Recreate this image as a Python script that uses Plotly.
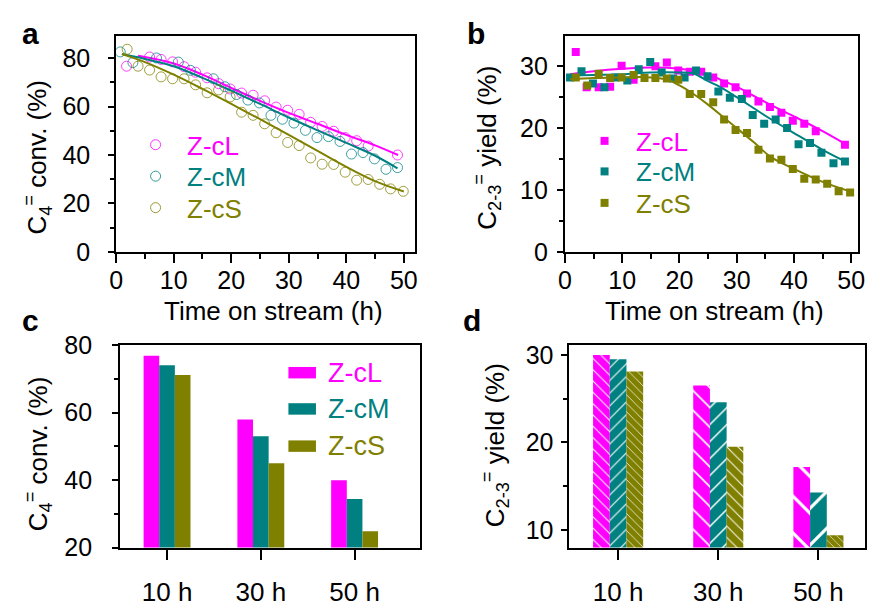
import plotly.graph_objects as go

W, H = 872, 608
FONT = "Liberation Sans, Arial, sans-serif"

names = ["Z-cL", "Z-cM", "Z-cS"]
colors = ["#FF00FF", "#008080", "#808000"]

# ---------- panel a : C4= conversion vs time ----------
a_cL_t = [1.8, 5.8, 7.8, 9.8, 11.8, 13.8, 15.8, 17.8, 19.8, 21.8, 23.8, 25.8, 27.8, 29.8,
          31.8, 33.8, 35.8, 37.8, 39.8, 41.8, 43.8, 48.9]
a_cL_y = [76.7, 80.5, 79.5, 78.5, 76.5, 74.2, 71.9, 69.5, 67.3, 65.6, 64.7, 62.4, 59.8, 58.5,
          56.8, 53.5, 51.8, 49.8, 47.2, 45.9, 43.7, 40.0]
a_cM_t = [0.7, 2.9, 7.0, 10.8, 12.9, 16.9, 18.9, 20.9, 22.9, 24.9, 26.9, 28.9, 30.9, 32.9,
          34.9, 36.9, 38.9, 40.9, 42.9, 44.9, 46.9, 48.9]
a_cM_y = [82.6, 78.2, 80.1, 78.4, 75.0, 71.5, 68.2, 65.0, 62.7, 61.5, 56.4, 54.8, 53.2, 50.2,
          47.2, 47.6, 45.6, 40.4, 41.0, 38.4, 34.1, 34.8]
a_cS_t = [1.9, 3.8, 5.8, 7.8, 9.8, 11.8, 13.8, 15.8, 17.8, 19.8, 21.8, 23.8, 25.8, 27.8,
          29.8, 31.8, 33.8, 35.8, 37.8, 39.8, 41.8, 43.8, 45.8, 47.7, 49.9]
a_cS_y = [83.7, 76.7, 75.1, 72.3, 71.5, 71.5, 69.0, 65.7, 66.9, 64.0, 57.7, 56.4, 52.9, 49.2,
          45.2, 43.9, 38.8, 36.2, 36.1, 32.9, 29.6, 29.9, 27.9, 26.0, 25.0]
# fitted curves (panel a)
a_fit_cL_t = [3.8, 10, 15, 20, 25, 30, 35, 40, 45, 49]
a_fit_cL_y = [81.0, 77.8, 73.2, 67.7, 62.4, 57.4, 52.9, 48.3, 44.0, 40.0]
a_fit_cM_t = [1, 5, 10, 15, 20, 25, 30, 35, 40, 45, 48.9]
a_fit_cM_y = [81.7, 79.7, 76.7, 71.9, 66.6, 61.1, 55.5, 50.2, 45.0, 39.7, 34.5]
a_fit_cS_t = [1, 5, 10, 15, 20, 25, 30, 35, 40, 45, 50]
a_fit_cS_y = [81.7, 78.4, 73.2, 67.3, 61.1, 54.8, 48.3, 41.7, 35.1, 29.2, 24.9]

# ---------- panel b : C2-3= yield vs time ----------
b_cL_t = [1.9, 3.8, 5.9, 7.9, 9.9, 12.0, 15.8, 17.8, 19.8, 21.8, 23.8, 25.9, 27.8, 29.8,
          31.8, 33.8, 35.8, 37.8, 39.8, 41.8, 43.8, 48.9]
b_cL_y = [32.3, 26.6, 26.6, 26.7, 30.1, 27.8, 30.0, 30.6, 29.3, 29.1, 29.1, 28.2, 27.2, 26.6,
          25.6, 24.3, 23.4, 22.5, 21.2, 20.7, 19.5, 17.3]
b_cM_t = [0.9, 2.9, 4.9, 6.9, 8.8, 10.9, 12.9, 14.9, 16.9, 18.9, 20.9, 22.9, 24.9, 26.8,
          28.8, 30.9, 32.8, 34.8, 36.8, 38.8, 40.8, 42.8, 44.8, 46.9, 48.9]
b_cM_y = [28.2, 29.2, 27.2, 26.6, 28.2, 27.7, 29.5, 30.7, 29.0, 28.0, 28.2, 29.3, 28.4, 25.9,
          24.9, 24.7, 22.1, 20.7, 21.4, 20.0, 17.4, 17.6, 16.0, 14.3, 14.6]
b_cS_t = [1.9, 3.9, 5.9, 7.9, 9.9, 12.0, 13.9, 15.8, 17.8, 19.8, 21.8, 23.8, 25.9, 27.8,
          29.8, 31.8, 33.8, 35.8, 37.8, 39.8, 41.8, 43.8, 45.8, 47.8, 49.8]
b_cS_y = [28.2, 26.9, 28.8, 28.1, 28.2, 28.6, 28.1, 28.1, 28.0, 27.8, 25.5, 25.5, 24.2, 21.4,
          19.7, 19.2, 16.5, 15.1, 14.9, 13.4, 11.8, 11.7, 11.0, 9.8, 9.6]
b_fit_cL_t = [0.9, 5, 10, 15, 20, 25, 27, 30, 35, 40, 45, 49]
b_fit_cL_y = [28.7, 29.2, 29.6, 29.8, 29.6, 28.7, 27.9, 26.7, 24.2, 21.9, 19.5, 17.4]
b_fit_cM_t = [0.9, 5, 10, 15, 20, 22.5, 25, 27, 30, 35, 40, 45, 49]
b_fit_cM_y = [28.5, 28.6, 28.7, 29.0, 29.0, 28.8, 27.6, 26.7, 25.0, 22.0, 19.2, 16.5, 14.6]
b_fit_cS_t = [0.9, 5, 10, 15, 18, 20, 22, 25, 28, 30, 33, 36, 40, 45, 50]
b_fit_cS_y = [27.9, 28.1, 28.2, 28.2, 27.8, 26.9, 25.8, 23.8, 21.5, 20.0, 17.7, 15.3, 13.4, 11.3, 9.7]

# ---------- panels c, d : bars ----------
bar_cats = ["10 h", "30 h", "50 h"]
c_conv = {"Z-cL": [76.9, 58.0, 40.0], "Z-cM": [74.1, 53.0, 34.4], "Z-cS": [71.2, 45.0, 24.8]}
d_yield = {"Z-cL": [30.0, 26.5, 17.2], "Z-cM": [29.5, 24.6, 14.3], "Z-cS": [28.1, 19.5, 9.4]}

fig = go.Figure()

a_pts = [(a_cL_t, a_cL_y), (a_cM_t, a_cM_y), (a_cS_t, a_cS_y)]
a_fit = [(a_fit_cL_t, a_fit_cL_y), (a_fit_cM_t, a_fit_cM_y), (a_fit_cS_t, a_fit_cS_y)]
b_pts = [(b_cL_t, b_cL_y), (b_cM_t, b_cM_y), (b_cS_t, b_cS_y)]
b_fit = [(b_fit_cL_t, b_fit_cL_y), (b_fit_cM_t, b_fit_cM_y), (b_fit_cS_t, b_fit_cS_y)]

for i, n in enumerate(names):
    fig.add_trace(go.Scatter(x=a_fit[i][0], y=a_fit[i][1], mode="lines",
                             line=dict(color=colors[i], width=2, shape="spline", smoothing=1.0),
                             showlegend=False, xaxis="x", yaxis="y"))
    fig.add_trace(go.Scatter(x=a_pts[i][0], y=a_pts[i][1], mode="markers", name=n,
                             marker=dict(symbol="circle-open", size=10, color=colors[i],
                                         line=dict(width=1, color=colors[i]), opacity=0.75),
                             showlegend=False, xaxis="x", yaxis="y"))
    fig.add_trace(go.Scatter(x=b_fit[i][0], y=b_fit[i][1], mode="lines",
                             line=dict(color=colors[i], width=2, shape="spline", smoothing=1.0),
                             showlegend=False, xaxis="x2", yaxis="y2"))
    fig.add_trace(go.Scatter(x=b_pts[i][0], y=b_pts[i][1], mode="markers", name=n,
                             marker=dict(symbol="square", size=8, color=colors[i]),
                             showlegend=False, xaxis="x2", yaxis="y2"))

pat_shape = ["\\", "/", "\\"]
pat_size = [[8, 14, 26], [9, 12, 26], [6, 8, 5]]
for i, n in enumerate(names):
    fig.add_trace(go.Bar(x=bar_cats, y=c_conv[n], name=n, marker=dict(color=colors[i], line_width=0),
                         showlegend=False, xaxis="x3", yaxis="y3", offsetgroup=str(i)))
    fig.add_trace(go.Bar(x=bar_cats, y=d_yield[n], name=n,
                         marker=dict(color=colors[i], line_width=0,
                                     pattern=dict(shape=pat_shape[i], size=pat_size[i], solidity=0.12,
                                                  fgcolor="white", bgcolor=colors[i], fillmode="replace")),
                         showlegend=False, xaxis="x4", yaxis="y4", offsetgroup=str(i)))

def px_x(p):
    return p / W

def px_y(p):
    return 1 - p / H

axis_common = dict(showline=True, linecolor="black", linewidth=2, mirror=True, ticks="outside",
                   tickwidth=2, tickcolor="black", showgrid=False, zeroline=False,
                   tickfont=dict(family=FONT, size=25, color="black"))
cat_font = dict(family=FONT, size=26, color="black")

fig.update_layout(
    width=W, height=H, margin=dict(l=0, r=0, t=0, b=0),
    paper_bgcolor="white", plot_bgcolor="white",
    barmode="group", bargap=0.5, bargroupgap=0,
    font=dict(family=FONT, color="black"),
    xaxis=dict(axis_common, domain=[px_x(111), px_x(415)], range=[0, 52], dtick=10, ticklen=9,
               ticklabelstandoff=-4, anchor="y",
               minor=dict(dtick=5, ticklen=5, tickwidth=2, ticks="outside", tickcolor="black")),
    yaxis=dict(axis_common, domain=[px_y(249.3), px_y(23)], range=[0, 89.2], dtick=20, ticklen=6,
               ticklabelstandoff=13, anchor="x",
               minor=dict(dtick=10, ticklen=4, tickwidth=2, ticks="outside", tickcolor="black")),
    xaxis2=dict(axis_common, domain=[px_x(567), px_x(865)], range=[0, 51.2], dtick=10, ticklen=9,
                ticklabelstandoff=-4, anchor="y2",
                minor=dict(dtick=5, ticklen=5, tickwidth=2, ticks="outside", tickcolor="black")),
    yaxis2=dict(axis_common, domain=[px_y(249.3), px_y(23)], range=[0, 34.9], dtick=10, ticklen=6,
                ticklabelstandoff=4, anchor="x2",
                minor=dict(dtick=5, ticklen=4, tickwidth=2, ticks="outside", tickcolor="black")),
    xaxis3=dict(axis_common, domain=[px_x(115), px_x(420)], range=[-0.5, 2.7], ticklen=10,
                ticklabelstandoff=10, anchor="y3", type="category", tickfont=cat_font),
    yaxis3=dict(axis_common, domain=[px_y(559.3), px_y(347.3)], range=[20, 80], dtick=20, ticklen=6,
                ticklabelstandoff=15, anchor="x3",
                minor=dict(dtick=10, ticklen=4, tickwidth=2, ticks="outside", tickcolor="black")),
    xaxis4=dict(axis_common, domain=[px_x(570.7), 1.0], range=[-0.495, 2.465], ticklen=10,
                ticklabelstandoff=10, anchor="y4", type="category", tickfont=cat_font),
    yaxis4=dict(axis_common, domain=[px_y(559.3), px_y(347.3)], range=[8, 31.1], dtick=10, ticklen=6,
                ticklabelstandoff=2, anchor="x4",
                minor=dict(dtick=5, ticklen=4, tickwidth=2, ticks="outside", tickcolor="black")),
)

ann = []
shapes = []

def text(x, y, s, size=26, anchor="center", bold=False, angle=0, color="black"):
    ann.append(dict(x=px_x(x), y=px_y(y), xref="paper", yref="paper", text=s, showarrow=False,
                    xanchor=anchor, yanchor="middle", textangle=angle,
                    font=dict(family=FONT, size=size, color=color,
                              weight="bold" if bold else "normal")))

# panel labels
text(24, 20, "a", size=30, bold=True)
text(477, 20, "b", size=30, bold=True)
text(24, 321, "c", size=30, bold=True)
text(473, 321, "d", size=30, bold=True)

# axis titles
text(271, 311, "Time on stream (h)")
text(719, 311, "Time on stream (h)")
text(31, 150, "C<sub>4</sub><sup>=</sup> conv. (%)", angle=-90)
text(487, 140, "C<sub>2-3</sub><sup>=</sup> yield (%)", angle=-90)
text(31, 461, "C<sub>4</sub><sup>=</sup> conv. (%)", angle=-90)
text(496, 452, "C<sub>2-3</sub><sup>=</sup> yield (%)", angle=-90)

# legends
a_leg_y = [137, 170, 203]
b_leg_y = [133, 165, 198]
c_leg_y = [376, 414, 453]
for i, n in enumerate(names):
    shapes.append(dict(type="circle", xref="paper", yref="paper", xsizemode="pixel", ysizemode="pixel",
                       xanchor=px_x(151), yanchor=px_y(a_leg_y[i]), x0=-5, x1=5, y0=-5, y1=5,
                       line=dict(color=colors[i], width=1), fillcolor="rgba(0,0,0,0)", opacity=0.8))
    text(181, a_leg_y[i] + 1, n, anchor="left", color=colors[i])
    shapes.append(dict(type="rect", xref="paper", yref="paper", xsizemode="pixel", ysizemode="pixel",
                       xanchor=px_x(607.3), yanchor=px_y(b_leg_y[i]), x0=-4, x1=4, y0=-4, y1=4,
                       line=dict(width=0), fillcolor=colors[i]))
    text(637, b_leg_y[i] + 1, n, anchor="left", color=colors[i])
    shapes.append(dict(type="rect", xref="paper", yref="paper",
                       x0=px_x(286), x1=px_x(314), y0=px_y(c_leg_y[i] + 6), y1=px_y(c_leg_y[i] - 6),
                       line=dict(width=0), fillcolor=colors[i]))
    text(324, c_leg_y[i], n, size=27, anchor="left", color=colors[i])

fig.update_layout(annotations=ann, shapes=shapes)
fig.write_html("out.html")
